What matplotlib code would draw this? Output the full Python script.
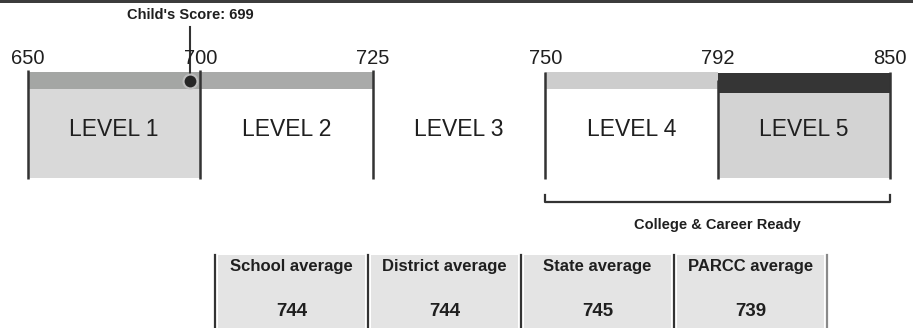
import numpy as np
import matplotlib
matplotlib.use("Agg")
import matplotlib.pyplot as plt
from matplotlib.patches import Rectangle

plt.rcParams['font.family'] = ['Liberation Sans', 'DejaVu Sans']

# ---- data ----
levels = ["LEVEL 1", "LEVEL 2", "LEVEL 3", "LEVEL 4", "LEVEL 5"]
cut_scores = [650, 700, 725, 750, 792, 850]
child_score = 699
ccr_levels = [3, 4]  # Level 4 and Level 5 -> College & Career Ready
avg_labels = ["School average", "District average", "State average", "PARCC average"]
avg_values = [744, 744, 745, 739]

# ---- styling ----
bar_colors = ["#a4a6a4", "#a9aaa9", None, "#cdcdcd", "#353535"]
fill_colors = ["#d9d9d9", None, None, None, "#d3d3d3"]
txt = "#1f1f1f"

W, H = 913, 328
fig = plt.figure(figsize=(W / 100, H / 100), dpi=100)
fig.patch.set_facecolor("white")

ax = fig.add_axes([0, 0, 1, 1])
seg_px = (890 - 28) / 5
ax.set_xlim(-28 / seg_px, (W - 28) / seg_px)
ax.set_ylim(H, 0)
ax.axis("off")

# scan edge at top
ax.add_patch(Rectangle((ax.get_xlim()[0], 0), ax.get_xlim()[1] - ax.get_xlim()[0], 3,
                       color="#3c3c3c", lw=0))

bar_top, bar_bot, box_bot = 72, 89, 178
for i, lab in enumerate(levels):
    if fill_colors[i]:
        ax.add_patch(Rectangle((i, bar_bot), 1, box_bot - bar_bot, color=fill_colors[i], lw=0))
    if bar_colors[i]:
        top = bar_top if i != 4 else 73
        bot = bar_bot if i != 4 else 93
        ax.add_patch(Rectangle((i, top), 1, bot - top, color=bar_colors[i], lw=0))
    ax.text(i + 0.5, 130, lab, ha="center", va="center", fontsize=16.5, color=txt,
            fontweight="medium")

# boundary lines and cut score labels
line_tops = [70, 70, 70, 72, 80, 72]
for j, cs in enumerate(cut_scores):
    ax.plot([j, j], [line_tops[j], box_bot + 1], color="#333333", lw=1.8, solid_capstyle="butt")
    ax.text(j, 59, str(cs), ha="center", va="center", fontsize=14.5, color=txt)

# child's score marker
cx = np.interp(child_score, cut_scores, np.arange(len(cut_scores))) - 0.04
ax.plot([cx, cx], [27, 76], color="#333333", lw=1.5)
ax.plot([cx], [81], marker="o", markersize=10, markerfacecolor="#262626",
        markeredgecolor="#bdbdbd", markeredgewidth=1.5)
ax.text(cx, 15, f"Child's Score: {child_score}", ha="center", va="center",
        fontsize=10.5, fontweight="bold", color=txt)

# College & Career Ready bracket
x0, x1 = ccr_levels[0], ccr_levels[-1] + 1
ax.plot([x0, x0, x1, x1], [195, 202, 202, 195], color="#333333", lw=1.6)
ax.text((x0 + x1) / 2, 225, "College & Career Ready", ha="center", va="center",
        fontsize=10.5, fontweight="bold", color=txt)

# averages table
tx0, tx1, ty0 = 215, 827, 255
tax = fig.add_axes([tx0 / W, 0, (tx1 - tx0) / W, (H - ty0) / H])
tax.set_xlim(0, len(avg_labels))
tax.set_ylim(H - ty0, 0)
tax.axis("off")
for i, (lab, val) in enumerate(zip(avg_labels, avg_values)):
    tax.add_patch(Rectangle((i + 0.02, 0), 0.96, H - ty0, color="#e4e4e4", lw=0))
    tax.text(i + 0.5, 12, lab, ha="center", va="center", fontsize=12,
             fontweight="bold", color=txt)
    tax.text(i + 0.5, 56, str(val), ha="center", va="center", fontsize=13.5,
             fontweight="bold", color=txt)
for j in range(len(avg_labels) + 1):
    col = "#333333" if j < len(avg_labels) else "#8a8a8a"
    tax.plot([j, j], [0, H - ty0], color=col, lw=1.6, clip_on=False)

fig.savefig("out.png", dpi=100, facecolor="white")
